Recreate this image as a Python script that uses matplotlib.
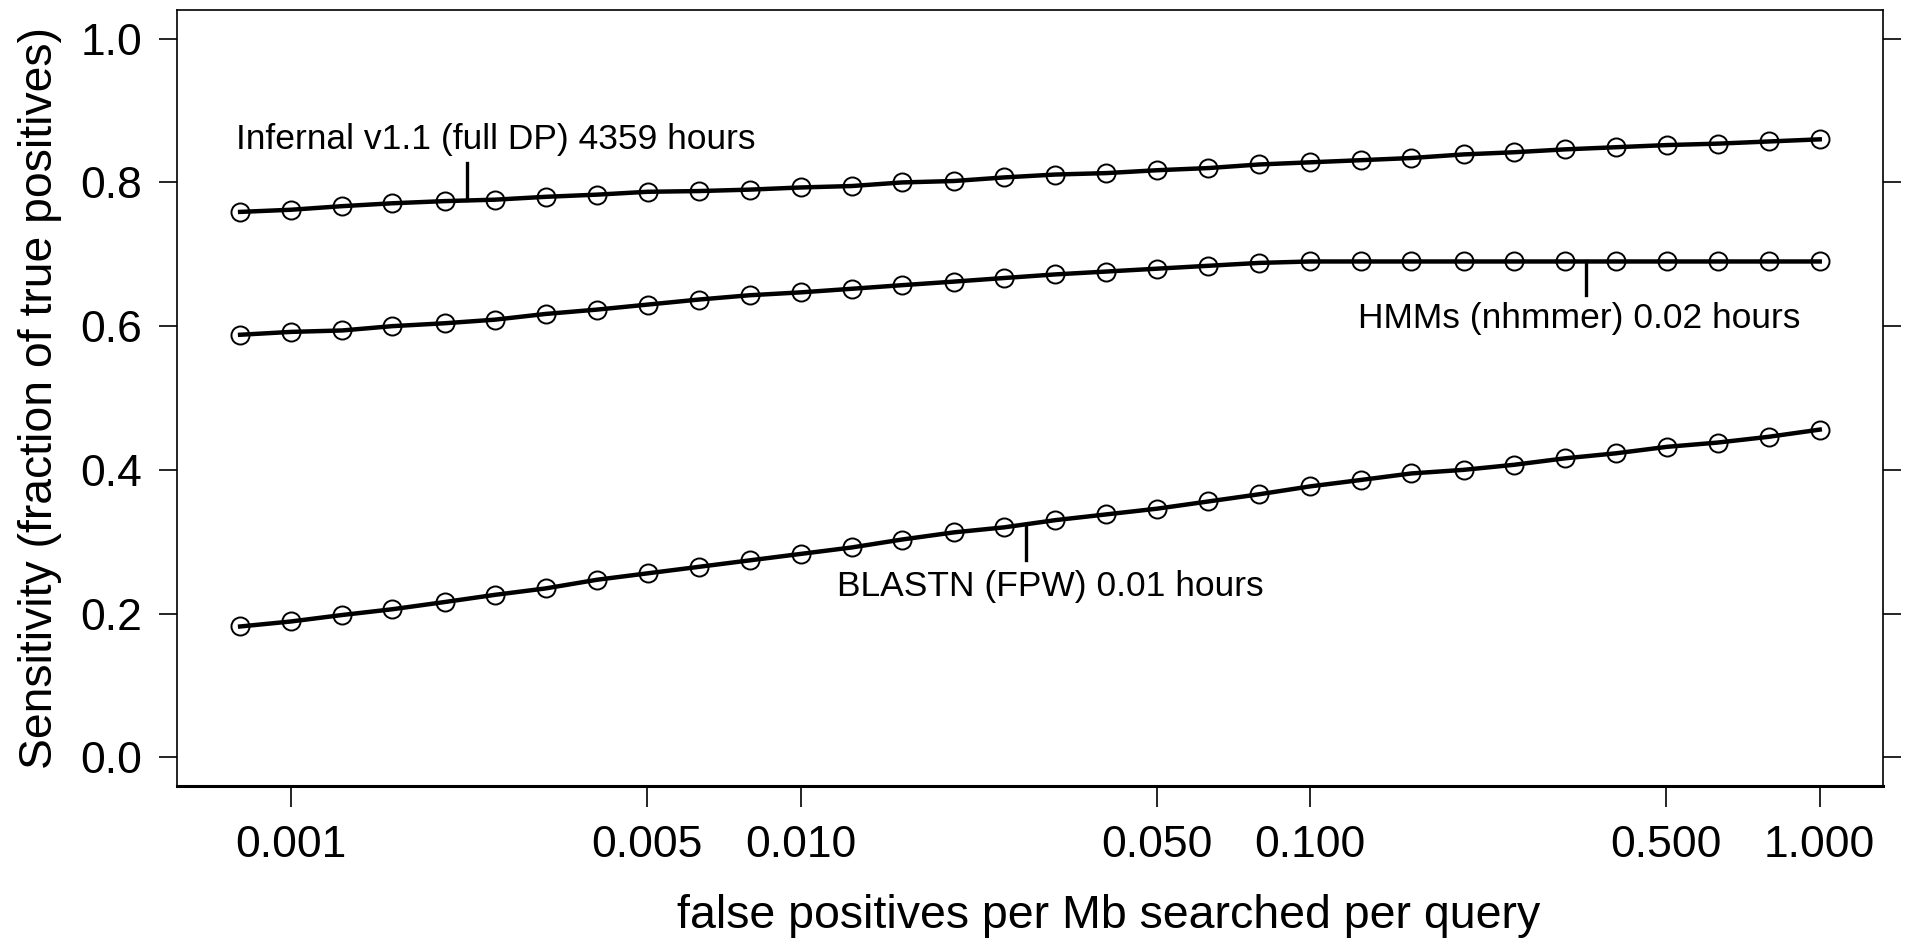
import numpy as np
import matplotlib
matplotlib.use("Agg")
import matplotlib.pyplot as plt

plt.rcParams['font.family'] = ['Liberation Sans', 'DejaVu Sans']

# false positives per Mb per query (log-spaced, 0.1 decade steps)
fp_rate = [0.000794, 0.001, 0.00126, 0.00158, 0.002, 0.00251, 0.00316, 0.00398,
           0.00501, 0.00631, 0.00794, 0.01, 0.0126, 0.0158, 0.02, 0.0251,
           0.0316, 0.0398, 0.0501, 0.0631, 0.0794, 0.1, 0.126, 0.158,
           0.2, 0.251, 0.316, 0.398, 0.501, 0.631, 0.794, 1.0]

infernal = [0.759, 0.762, 0.767, 0.771, 0.774, 0.776, 0.780, 0.783,
            0.787, 0.788, 0.790, 0.793, 0.795, 0.800, 0.802, 0.807,
            0.811, 0.813, 0.817, 0.820, 0.825, 0.828, 0.831, 0.834,
            0.839, 0.842, 0.846, 0.849, 0.852, 0.854, 0.857, 0.860]

nhmmer = [0.588, 0.592, 0.594, 0.600, 0.604, 0.609, 0.617, 0.623,
          0.630, 0.637, 0.643, 0.647, 0.652, 0.657, 0.662, 0.667,
          0.672, 0.676, 0.680, 0.684, 0.688, 0.690, 0.690, 0.690,
          0.690, 0.690, 0.690, 0.690, 0.690, 0.690, 0.690, 0.690]

blastn = [0.182, 0.189, 0.198, 0.206, 0.216, 0.226, 0.235, 0.247,
          0.256, 0.265, 0.274, 0.283, 0.292, 0.303, 0.313, 0.320,
          0.330, 0.338, 0.346, 0.356, 0.366, 0.377, 0.386, 0.395,
          0.400, 0.407, 0.416, 0.423, 0.432, 0.438, 0.446, 0.456]

x_ticks = [0.001, 0.005, 0.01, 0.05, 0.1, 0.5, 1.0]
x_ticklabels = ["0.001", "0.005", "0.010", "0.050", "0.100", "0.500", "1.000"]
y_ticks = [0.0, 0.2, 0.4, 0.6, 0.8, 1.0]

# label text, text anchor (x, y), pointer tick (x, y0, y1)
labels = [
    ("Infernal v1.1 (full DP) 4359 hours", (0.00078, 0.860), (0.00221, 0.776, 0.827)),
    ("HMMs (nhmmer) 0.02 hours", (0.124, 0.610), (0.347, 0.690, 0.643)),
    ("BLASTN (FPW) 0.01 hours", (0.0118, 0.237), (0.0277, 0.324, 0.274)),
]

fig = plt.figure(figsize=(19.19, 9.43), dpi=100)
ax = fig.add_axes([0.0922, 0.1665, 0.889, 0.8229])

for series in (infernal, nhmmer, blastn):
    ax.plot(fp_rate, series, color='black', lw=3.2, marker='o', ms=13,
            mfc='none', mec='black', mew=1.4, solid_joinstyle='round')

for text, (tx, ty), (px, py0, py1) in labels:
    ax.plot([px, px], [py0, py1], color='black', lw=2.4)
    ax.text(tx, ty, text, fontsize=25.5, ha='left', va='center')

ax.set_xscale('log')
lo, hi = np.log10(fp_rate[0]), np.log10(fp_rate[-1])
pad = 0.04 * (hi - lo)
ax.set_xlim(10 ** (lo - pad), 10 ** (hi + pad))
ax.set_ylim(-0.04, 1.04)

ax.set_xticks(x_ticks)
ax.set_xticklabels(x_ticklabels)
ax.xaxis.set_minor_locator(matplotlib.ticker.NullLocator())
ax.set_yticks(y_ticks)
ax.set_yticklabels([f"{v:.1f}" for v in y_ticks])

ax.tick_params(axis='x', direction='out', length=15, width=1.2, pad=13, labelsize=32)
ax.tick_params(axis='y', direction='out', length=13, width=1.2, pad=12, labelsize=32,
               right=True, labelright=False)

for side in ax.spines.values():
    side.set_linewidth(1.2)
ax.spines['bottom'].set_linewidth(2.2)

ax.set_xlabel("false positives per Mb searched per query", fontsize=33.5, va='center')
ax.xaxis.set_label_coords(0.546, -0.167)
ax.set_ylabel("Sensitivity (fraction of true positives)", fontsize=33.3, labelpad=13)

fig.savefig("out.png", dpi=100)
